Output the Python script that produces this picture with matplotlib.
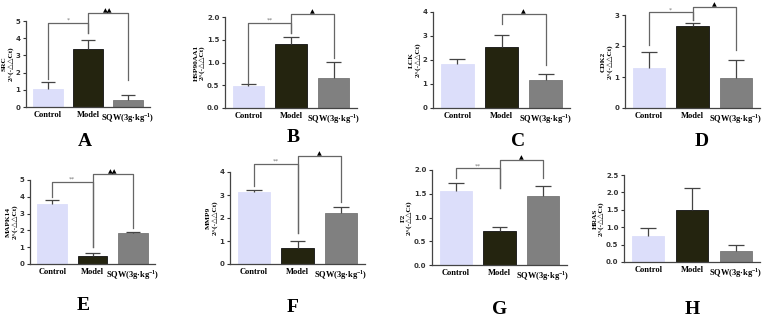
import numpy as np
import matplotlib.pyplot as plt

plt.rcParams['mathtext.fontset'] = 'custom'
plt.rcParams['mathtext.rm'] = 'Liberation Serif:bold'
plt.rcParams['mathtext.bf'] = 'Liberation Serif:bold'

groups = ['Control', 'Model', r'SQW(3g·kg$^{-1}$)']
genes = ['SRC', 'HSP90AA1', 'LCK', 'CDK2', 'MAPK14', 'MMP9', 'F2', 'HRAS']
letters = ['A', 'B', 'C', 'D', 'E', 'F', 'G', 'H']

means = [
    [1.02, 3.35, 0.38],
    [0.49, 1.40, 0.65],
    [1.85, 2.55, 1.15],
    [1.28, 2.63, 0.97],
    [3.60, 0.50, 1.82],
    [3.15, 0.70, 2.20],
    [1.56, 0.72, 1.46],
    [0.74, 1.48, 0.31],
]
errs = [
    [0.45, 0.52, 0.34],
    [0.03, 0.15, 0.36],
    [0.20, 0.50, 0.28],
    [0.52, 0.10, 0.58],
    [0.20, 0.18, 0.07],
    [0.08, 0.32, 0.27],
    [0.17, 0.08, 0.20],
    [0.25, 0.65, 0.18],
]
ymax = [5, 2.0, 4, 3, 5, 4, 2.0, 2.5]
ystep = [1, 0.5, 1, 1, 1, 1, 0.5, 0.5]

# significance brackets: (left bar, right bar, height, left leg end, right leg end, mark)
brackets = [
    [(0, 1, 4.90, 1.60, 4.30, '*'), (1, 2, 5.45, 4.30, 1.55, '▲▲')],
    [(0, 1, 1.87, 0.55, 1.65, '**'), (1, 2, 2.07, 1.65, 1.10, '▲')],
    [(1, 2, 3.92, 3.50, 1.80, '▲')],
    [(0, 1, 3.09, 2.03, 2.84, '*'), (1, 2, 3.25, 2.84, 1.87, '▲')],
    [(0, 1, 4.90, 4.00, 1.00, '**'), (1, 2, 5.36, 1.00, 2.13, '▲▲')],
    [(0, 1, 4.36, 3.40, 1.34, '**'), (1, 2, 4.68, 1.34, 2.68, '▲')],
    [(0, 1, 2.04, 1.83, 1.62, '**'), (1, 2, 2.21, 1.62, 1.83, '▲')],
    [],
]

# axes boxes in pixels: left, right, top, bottom
boxes = [
    (26, 150, 21, 107), (225, 357, 17, 108), (433, 570, 12, 108), (625, 760, 15, 108),
    (30, 155, 180, 264), (230, 365, 172, 264), (432, 567, 170, 265), (624, 760, 175, 262),
]
letter_pos = [(85, 141), (293, 137), (518, 142), (702, 142),
              (83, 306), (293, 308), (500, 309), (692, 310)]

colors = ['#dcdefa', '#24240f', '#808080']
W, H = 772, 319
fig = plt.figure(figsize=(W / 100, H / 100), dpi=100)
serif = ['Liberation Serif', 'DejaVu Sans']

for k in range(8):
    l, r, t, b = boxes[k]
    ax = fig.add_axes([l / W, 1 - b / H, (r - l) / W, (b - t) / H])
    x = np.arange(3)
    ax.bar(x, means[k], width=0.74, color=colors, edgecolor=['#dcdefa', '#111', '#777'], linewidth=0.6, zorder=2)
    tops = np.array(means[k]) + np.array(errs[k])
    ax.vlines(x, means[k], tops, color='#444', lw=0.9, zorder=3)
    ax.hlines(tops, x - 0.18, x + 0.18, color='#444', lw=0.9, zorder=3)
    for i, j, yb, yi, yj, mark in brackets[k]:
        ax.plot([i, i, j, j], [yi, yb, yb, yj], color='#666', lw=0.9, clip_on=False, zorder=4)
        c = '#777' if '*' in mark else 'black'
        ax.text((i + j) / 2, yb, mark, ha='center', va='bottom', fontsize=4.5,
                color=c, family='DejaVu Sans')
    ax.set_xlim(-0.55, 2.55)
    ax.set_ylim(0, ymax[k])
    yt = np.arange(0, ymax[k] + 1e-9, ystep[k])
    ax.set_yticks(yt)
    if ystep[k] < 1:
        ax.set_yticklabels(['%.1f' % v for v in yt])
    ax.set_xticks(x)
    ax.set_xticklabels(groups, family=serif, fontweight='bold', fontsize=6)
    ax.tick_params(axis='x', length=0, pad=3)
    ax.tick_params(axis='y', length=2.5, width=0.8, pad=1.5, labelsize=5, colors='#333')
    for lab in ax.get_yticklabels():
        lab.set_fontweight('bold')
    for s in ['top', 'right']:
        ax.spines[s].set_visible(False)
    for s in ['left', 'bottom']:
        ax.spines[s].set_color('#444')
        ax.spines[s].set_linewidth(0.9)
    ax.set_ylabel(genes[k] + '\n2^(-△△Ct)', family=serif, fontweight='bold', fontsize=5.3,
                  labelpad=1.5, linespacing=1.1)
    fig.text(letter_pos[k][0] / W, 1 - letter_pos[k][1] / H, letters[k], ha='center', va='center',
             family='Liberation Serif', fontweight='bold', fontsize=14)

fig.savefig('out.png', dpi=100)
